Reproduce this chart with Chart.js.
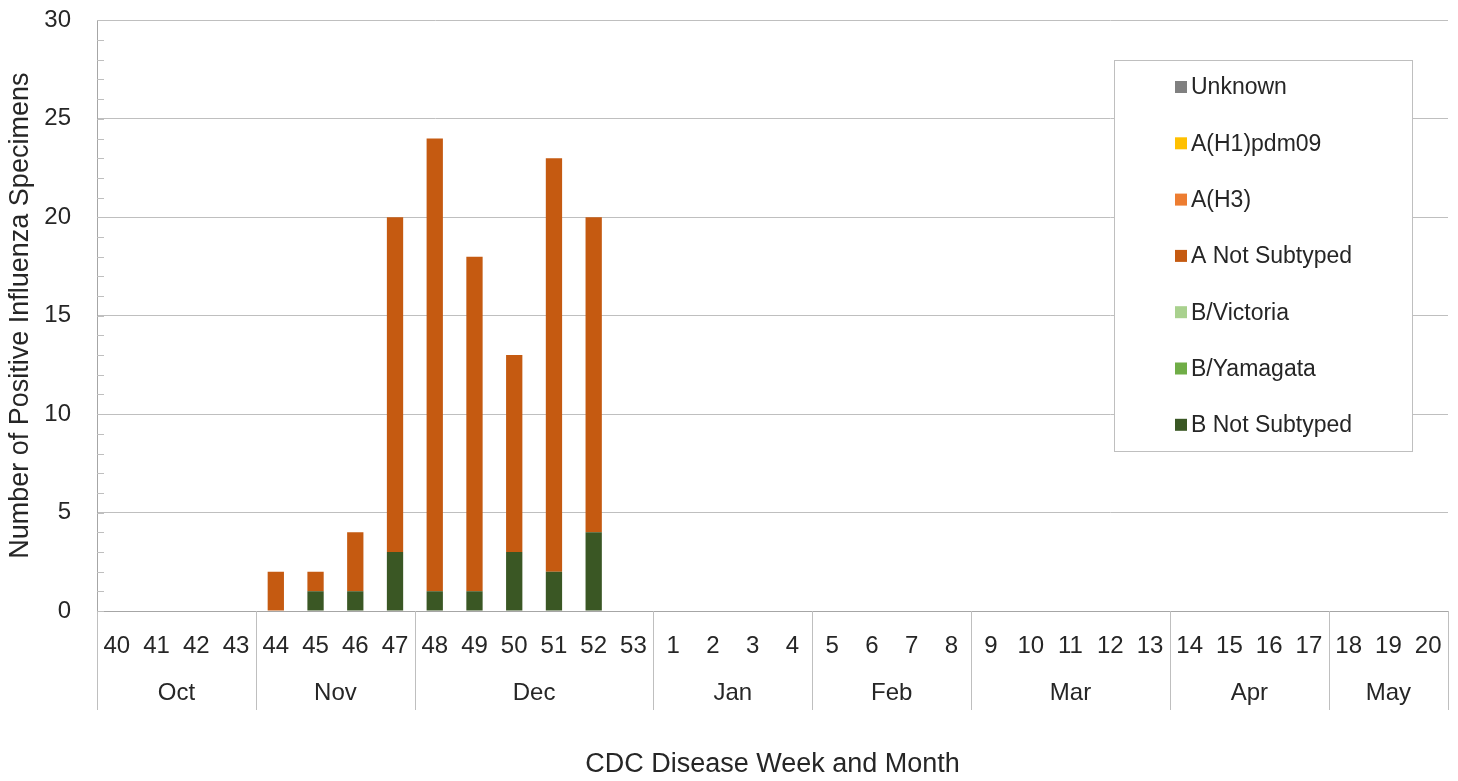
<!DOCTYPE html>
<html>
<head>
<meta charset="utf-8">
<script src="https://cdn.jsdelivr.net/npm/chart.js@4.4.0/dist/chart.umd.min.js"></script>
<style>
  html, body { margin: 0; padding: 0; background: #fff; }
  #wrap { width: 1458px; height: 781px; position: relative; }
</style>
</head>
<body>
<div id="wrap"><canvas id="fluChart"></canvas></div>
<script>
// CDC weeks shown on the x axis, grouped by month
const weeks = ['40','41','42','43','44','45','46','47','48','49','50','51','52','53',
  '1','2','3','4','5','6','7','8','9','10','11','12','13','14','15','16','17','18','19','20'];
const months = ['Oct','Nov','Dec','Jan','Feb','Mar','Apr','May'];
const weeksPerMonth = [4, 4, 6, 4, 4, 5, 4, 3];

// series, bottom of the stack first
const bNotSubtyped = [0,0,0,0,0,1,1,3,1,1,3,2,4,0, 0,0,0,0,0,0,0,0,0,0,0,0,0,0,0,0,0,0,0,0];
const bYamagata    = [0,0,0,0,0,0,0,0,0,0,0,0,0,0, 0,0,0,0,0,0,0,0,0,0,0,0,0,0,0,0,0,0,0,0];
const bVictoria    = [0,0,0,0,0,0,0,0,0,0,0,0,0,0, 0,0,0,0,0,0,0,0,0,0,0,0,0,0,0,0,0,0,0,0];
const aNotSubtyped = [0,0,0,0,2,1,3,17,23,17,10,21,16,0, 0,0,0,0,0,0,0,0,0,0,0,0,0,0,0,0,0,0,0,0];
const aH3          = [0,0,0,0,0,0,0,0,0,0,0,0,0,0, 0,0,0,0,0,0,0,0,0,0,0,0,0,0,0,0,0,0,0,0];
const aH1pdm09     = [0,0,0,0,0,0,0,0,0,0,0,0,0,0, 0,0,0,0,0,0,0,0,0,0,0,0,0,0,0,0,0,0,0,0];
const unknown      = [0,0,0,0,0,0,0,0,0,0,0,0,0,0, 0,0,0,0,0,0,0,0,0,0,0,0,0,0,0,0,0,0,0,0];

const FONT = "'Liberation Sans', Arial, sans-serif";
const TEXT = '#262626';
const LINE = '#bfbfbf';

// month row, separators, minor y ticks and the boxed legend
const extrasPlugin = {
  id: 'extras',
  afterDraw(chart) {
    const ctx = chart.ctx;
    const xs = chart.scales.x;
    const ys = chart.scales.y;
    const area = chart.chartArea;
    const step = xs.width / weeks.length;
    ctx.save();

    // separators + month names
    ctx.strokeStyle = LINE;
    ctx.lineWidth = 1;
    ctx.fillStyle = TEXT;
    ctx.font = '24px ' + FONT;
    ctx.textAlign = 'center';
    ctx.textBaseline = 'middle';
    let start = 0;
    for (let m = 0; m <= months.length; m++) {
      const x = Math.round(xs.left + start * step) + 0.5;
      ctx.beginPath();
      ctx.moveTo(x, area.bottom);
      ctx.lineTo(x, area.bottom + 99);
      ctx.stroke();
      if (m < months.length) {
        const mid = xs.left + (start + weeksPerMonth[m] / 2) * step;
        ctx.fillText(months[m], mid, area.bottom + 82);
        start += weeksPerMonth[m];
      }
    }

    // minor ticks on the value axis
    for (let v = ys.min; v <= ys.max; v++) {
      const y = Math.round(ys.getPixelForValue(v)) + 0.5;
      ctx.beginPath();
      ctx.moveTo(area.left, y);
      ctx.lineTo(area.left + 7, y);
      ctx.stroke();
    }

    // legend box, top of stack first
    const bx = 1114, by = 60, bw = 298, bh = 391;
    ctx.fillStyle = '#fff';
    ctx.fillRect(bx, by, bw, bh);
    ctx.strokeStyle = LINE;
    ctx.strokeRect(bx + 0.5, by + 0.5, bw, bh);
    const sets = chart.data.datasets.slice().reverse();
    ctx.textAlign = 'left';
    ctx.font = '23px ' + FONT;
    sets.forEach((ds, i) => {
      const cy = 87 + i * 56.3;
      ctx.fillStyle = ds.backgroundColor;
      ctx.fillRect(1175, cy - 6, 12, 12);
      ctx.fillStyle = TEXT;
      ctx.fillText(ds.label, 1191, cy + 1);
    });
    ctx.restore();
  }
};

new Chart(document.getElementById('fluChart'), {
  type: 'bar',
  data: {
    labels: weeks,
    datasets: [
      { label: 'B Not Subtyped', data: bNotSubtyped, backgroundColor: '#3a5724' },
      { label: 'B/Yamagata',     data: bYamagata,    backgroundColor: '#70ad47' },
      { label: 'B/Victoria',     data: bVictoria,    backgroundColor: '#a9d18e' },
      { label: 'A Not Subtyped', data: aNotSubtyped, backgroundColor: '#c55a11' },
      { label: 'A(H3)',          data: aH3,          backgroundColor: '#ed7d31' },
      { label: 'A(H1)pdm09',     data: aH1pdm09,     backgroundColor: '#ffc000' },
      { label: 'Unknown',        data: unknown,      backgroundColor: '#808080' }
    ]
  },
  options: {
    responsive: true,
    maintainAspectRatio: false,
    animation: false,
    layout: { padding: { top: 0, right: 10, left: 0, bottom: 0 } },
    datasets: { bar: { barPercentage: 0.41, categoryPercentage: 1.0 } },
    plugins: {
      legend: { display: false },
      tooltip: { enabled: false }
    },
    scales: {
      x: {
        stacked: true,
        grid: { display: true, drawOnChartArea: false, color: 'rgba(0,0,0,0)', tickLength: 18 },
        border: { color: '#a6a6a6' },
        ticks: { color: TEXT, font: { family: FONT, size: 24 }, padding: 3, maxRotation: 0, autoSkip: false },
        title: { display: true, text: 'CDC Disease Week and Month', color: TEXT,
                 font: { family: FONT, size: 27 }, padding: { top: 4, bottom: 0 } },
        afterFit(scale) { scale.height = 170; }
      },
      y: {
        stacked: true,
        min: 0,
        max: 30,
        ticks: { stepSize: 5, color: TEXT, font: { family: FONT, size: 24 }, padding: 6 },
        grid: { color: LINE, tickColor: 'rgba(0,0,0,0)', drawTicks: true, tickLength: 20 },
        border: { color: '#a6a6a6' },
        title: { display: true, text: 'Number of Positive Influenza Specimens', color: TEXT,
                 font: { family: FONT, size: 27 }, padding: { top: 4, bottom: 0 } },
        afterFit(scale) { scale.width = 97; }
      }
    }
  },
  plugins: [extrasPlugin]
});
</script>
</body>
</html>
